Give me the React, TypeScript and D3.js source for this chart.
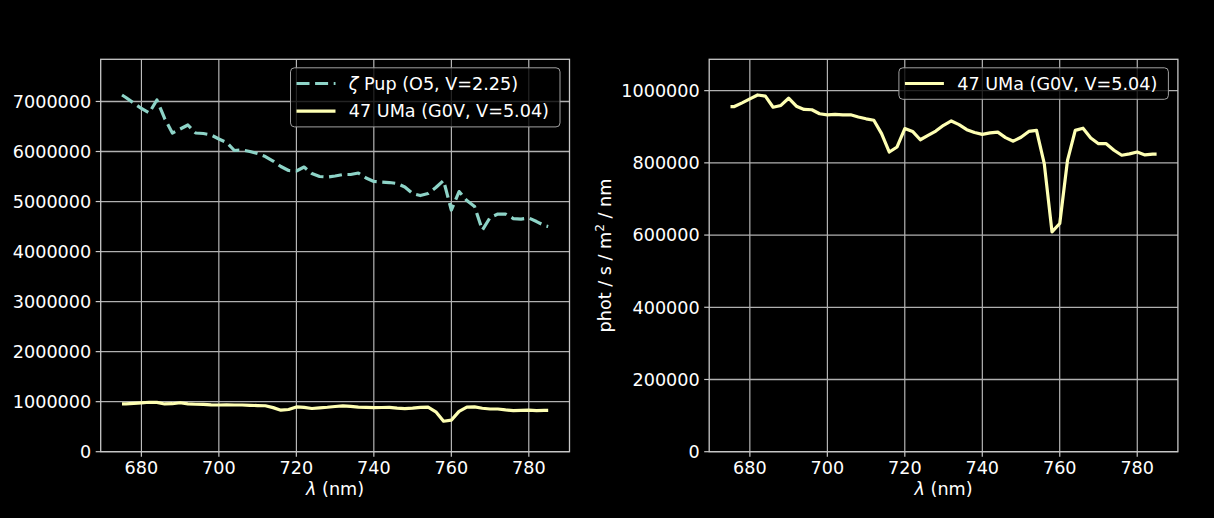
import React from "react";
import * as d3 from "d3";

const wavelengths = [
  675, 676, 678, 680, 682, 684, 686, 688, 690, 692, 694, 696, 698, 700, 702, 704, 706, 708, 710,
  712, 714, 716, 718, 720, 722, 724, 726, 728, 730, 732, 734, 736, 738, 740, 742, 744, 746, 748,
  750, 752, 754, 756, 758, 760, 762, 764, 766, 768, 770, 772, 774, 776, 778, 780, 782, 784, 785,
];

const zetaPup = [
  7130000, 7080000, 6970000, 6860000, 6770000, 7030000, 6660000, 6370000, 6450000, 6530000,
  6370000, 6360000, 6330000, 6250000, 6180000, 6020000, 6030000, 6000000, 5960000, 5900000,
  5810000, 5700000, 5620000, 5610000, 5690000, 5560000, 5500000, 5490000, 5510000, 5540000,
  5540000, 5570000, 5470000, 5400000, 5390000, 5380000, 5360000, 5290000, 5160000, 5120000,
  5160000, 5280000, 5420000, 4830000, 5200000, 5020000, 4900000, 4430000, 4680000, 4750000,
  4750000, 4660000, 4650000, 4670000, 4600000, 4520000, 4500000,
];

const uma47 = [
  956000, 956000, 966000, 977000, 988000, 985000, 954000, 959000, 979000, 957000, 948000,
  947000, 936000, 933000, 934000, 933000, 933000, 927000, 922000, 918000, 881000, 830000,
  844000, 895000, 887000, 864000, 876000, 888000, 904000, 916000, 906000, 892000, 884000,
  879000, 883000, 885000, 870000, 860000, 871000, 887000, 890000, 798000, 609000, 632000,
  807000, 890000, 896000, 869000, 853000, 853000, 835000, 821000, 825000, 830000, 822000,
  824000, 824000,
];

const xTicks = [680, 700, 720, 740, 760, 780];
const yTicksLeft = [0, 1000000, 2000000, 3000000, 4000000, 5000000, 6000000, 7000000];
const yTicksRight = [0, 200000, 400000, 600000, 800000, 1000000];

const labelZeta = "Pup (O5, V=2.25)";
const labelUma = "47 UMa (G0V, V=5.04)";

const FONT = "'DejaVu Sans', sans-serif";
const FS = 17.6;
const ZETA_COLOR = "#8dd3c7";
const UMA_COLOR = "#feffb3";

type Series = { values: number[]; color: string; dashed: boolean };

function YLabel({ x, y }: { x: number; y: number }) {
  return (
    <text
      transform={`translate(${x},${y}) rotate(-90)`}
      textAnchor="middle"
      fill="#fff"
      fontSize={FS}
      fontFamily={FONT}
    >
      <tspan>phot / s / m</tspan>
      <tspan fontSize={12.3} dy={-7}>2</tspan>
      <tspan dy={7}> / nm</tspan>
    </text>
  );
}

function Panel({
  left,
  right,
  top,
  bottom,
  series,
  yTicks,
  legend,
  clipId,
}: {
  left: number;
  right: number;
  top: number;
  bottom: number;
  series: Series[];
  yTicks: number[];
  legend: { label: string; zeta: boolean; color: string; dashed: boolean }[];
  clipId: string;
}) {
  const allMax = d3.max(series.flatMap((s) => s.values)) as number;
  const x = d3.scaleLinear().domain([669.5, 790.5]).range([left, right]);
  const y = d3.scaleLinear().domain([0, allMax * 1.1]).range([bottom, top]);
  const line = d3
    .line<number>()
    .x((_, i) => x(wavelengths[i]))
    .y((v) => y(v));

  const legRight = right - 9.5;
  const legBoxW = 269.5;
  const legX = legRight - legBoxW;
  const legY = top + 8.5;
  const rowH = 27.6;
  const legH = 31.5 + (legend.length - 1) * rowH;

  return (
    <g>
      <defs>
        <clipPath id={clipId}>
          <rect x={left} y={top} width={right - left} height={bottom - top} />
        </clipPath>
      </defs>
      {xTicks.map((t) => (
        <line key={"gx" + t} x1={x(t)} x2={x(t)} y1={top} y2={bottom} stroke="#d8d8d8" strokeWidth={1} />
      ))}
      {yTicks.map((t) => (
        <line key={"gy" + t} x1={left} x2={right} y1={y(t)} y2={y(t)} stroke="#b0b0b0" strokeWidth={1.3} />
      ))}
      <g clipPath={`url(#${clipId})`}>
        {series.map((s, i) => (
          <path
            key={i}
            d={line(s.values) as string}
            fill="none"
            stroke={s.color}
            strokeWidth={3.2}
            strokeDasharray={s.dashed ? "13 5.6" : undefined}
            strokeLinejoin="round"
          />
        ))}
      </g>
      <rect x={left} y={top} width={right - left} height={bottom - top} fill="none" stroke="#c8c8c8" strokeWidth={1.3} />
      {xTicks.map((t) => (
        <g key={"tx" + t}>
          <line x1={x(t)} x2={x(t)} y1={bottom} y2={bottom + 5} stroke="#c8c8c8" strokeWidth={1.2} />
          <text x={x(t)} y={bottom + 22.3} textAnchor="middle" fill="#fff" fontSize={FS} fontFamily={FONT}>
            {t}
          </text>
        </g>
      ))}
      {yTicks.map((t) => (
        <g key={"ty" + t}>
          <line x1={left - 5} x2={left} y1={y(t)} y2={y(t)} stroke="#c8c8c8" strokeWidth={1.2} />
          <text x={left - 9.5} y={y(t)} dy="0.36em" textAnchor="end" fill="#fff" fontSize={FS} fontFamily={FONT}>
            {t}
          </text>
        </g>
      ))}
      <text x={(left + right) / 2} y={494.5} textAnchor="middle" fill="#fff" fontSize={FS} fontFamily={FONT}>
        <tspan fontStyle="italic">λ</tspan>
        <tspan> (nm)</tspan>
      </text>
      <rect
        x={legX}
        y={legY}
        width={legBoxW}
        height={legH}
        rx={4}
        fill="#000"
        fillOpacity={0.8}
        stroke="#a0a0a0"
        strokeWidth={1}
      />
      {legend.map((l, i) => {
        const cy = legY + 15.7 + i * rowH;
        return (
          <g key={"lg" + i}>
            <line
              x1={legX + 6}
              x2={legX + 45}
              y1={cy}
              y2={cy}
              stroke={l.color}
              strokeWidth={3.2}
              strokeDasharray={l.dashed ? "13 5.6" : undefined}
            />
            <text x={legX + 58.3} y={cy} dy="0.36em" fill="#fff" fontSize={FS} fontFamily={FONT}>
              {l.zeta ? (
                <>
                  <tspan fontStyle="italic">ζ</tspan>
                  <tspan> {l.label}</tspan>
                </>
              ) : (
                l.label
              )}
            </text>
          </g>
        );
      })}
    </g>
  );
}

export default function App() {
  const top = 59.3;
  const bottom = 451.7;
  return (
    <svg
      width={1214}
      height={518}
      style={{ position: "absolute", left: 0, top: 0, background: "#000", overflow: "hidden" }}
    >
      <rect x={0} y={0} width={1214} height={518} fill="#000" />
      <YLabel x={611} y={255.5} />
      <Panel
        left={100.7}
        right={569.5}
        top={top}
        bottom={bottom}
        clipId="clipL"
        yTicks={yTicksLeft}
        series={[
          { values: zetaPup, color: ZETA_COLOR, dashed: true },
          { values: uma47, color: UMA_COLOR, dashed: false },
        ]}
        legend={[
          { label: labelZeta, zeta: true, color: ZETA_COLOR, dashed: true },
          { label: labelUma, zeta: false, color: UMA_COLOR, dashed: false },
        ]}
      />
      <Panel
        left={709.2}
        right={1177.9}
        top={top}
        bottom={bottom}
        clipId="clipR"
        yTicks={yTicksRight}
        series={[{ values: uma47, color: UMA_COLOR, dashed: false }]}
        legend={[{ label: labelUma, zeta: false, color: UMA_COLOR, dashed: false }]}
      />
    </svg>
  );
}
